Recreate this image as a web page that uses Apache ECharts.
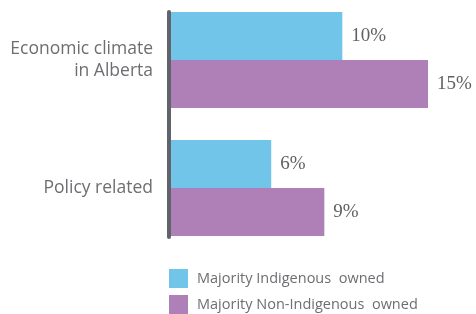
<!DOCTYPE html>
<html>
<head>
<meta charset="utf-8">
<script src="https://cdn.jsdelivr.net/npm/echarts@6/dist/echarts.min.js"></script>
<style>
  html, body { margin: 0; padding: 0; background: #fff; }
  #chart { width: 476px; height: 314px; }
</style>
</head>
<body>
<div id="chart"></div>
<script>
  // data (bar lengths; labels are rounded)
  var categories = ['Economic climate\nin Alberta', 'Policy related'];
  var seriesNames = ['Majority Indigenous  owned', 'Majority Non-Indigenous  owned'];
  var indigenous = [10, 5.85];
  var nonIndigenous = [15, 8.95];

  var blue = '#71c5e8';
  var purple = '#af80b7';
  var grey = '#6d6e71';

  var chart = echarts.init(document.getElementById('chart'));

  var labelStyle = {
    show: true,
    position: 'right',
    distance: 9,
    formatter: function (p) { return Math.round(p.value) + '%'; },
    fontFamily: 'Liberation Serif',
    fontSize: 19,
    color: '#5f6165'
  };

  chart.setOption({
    animation: false,
    legend: {
      orient: 'vertical',
      left: 169,
      top: 269,
      height: 60,
      padding: 0,
      itemWidth: 19,
      itemHeight: 19,
      itemGap: 7,
      icon: 'rect',
      textStyle: { fontFamily: 'Open Sans', fontSize: 14.5, color: grey, padding: [0, 0, 0, 4] },
      data: seriesNames
    },
    grid: [
      { left: 171, top: -4, width: 257, height: 256, outerBoundsMode: 'none' },
      // only there to draw the dark axis line
      { left: 169, top: 12, width: 10, height: 225, outerBoundsMode: 'none' }
    ],
    xAxis: [
      { gridIndex: 0, type: 'value', min: 0, max: 15, show: false },
      { gridIndex: 1, type: 'value', show: false }
    ],
    yAxis: [
      {
        gridIndex: 0,
        type: 'category',
        inverse: true,
        data: categories,
        axisLine: { show: false },
        axisTick: { show: false },
        axisLabel: {
          margin: 18,
          fontFamily: 'Open Sans',
          fontSize: 17.5,
          lineHeight: 22,
          color: grey,
          align: 'right'
        }
      },
      {
        gridIndex: 1,
        type: 'value',
        axisLine: { show: true, lineStyle: { color: '#606369', width: 4 } },
        axisTick: { show: false },
        axisLabel: { show: false },
        splitLine: { show: false }
      }
    ],
    series: [
      {
        name: seriesNames[0],
        type: 'bar',
        xAxisIndex: 0,
        yAxisIndex: 0,
        barWidth: 48,
        barGap: '0%',
        itemStyle: { color: blue },
        label: labelStyle,
        data: indigenous
      },
      {
        name: seriesNames[1],
        type: 'bar',
        xAxisIndex: 0,
        yAxisIndex: 0,
        barWidth: 48,
        barGap: '0%',
        itemStyle: { color: purple },
        label: labelStyle,
        data: nonIndigenous
      }
    ]
  });
</script>
</body>
</html>
